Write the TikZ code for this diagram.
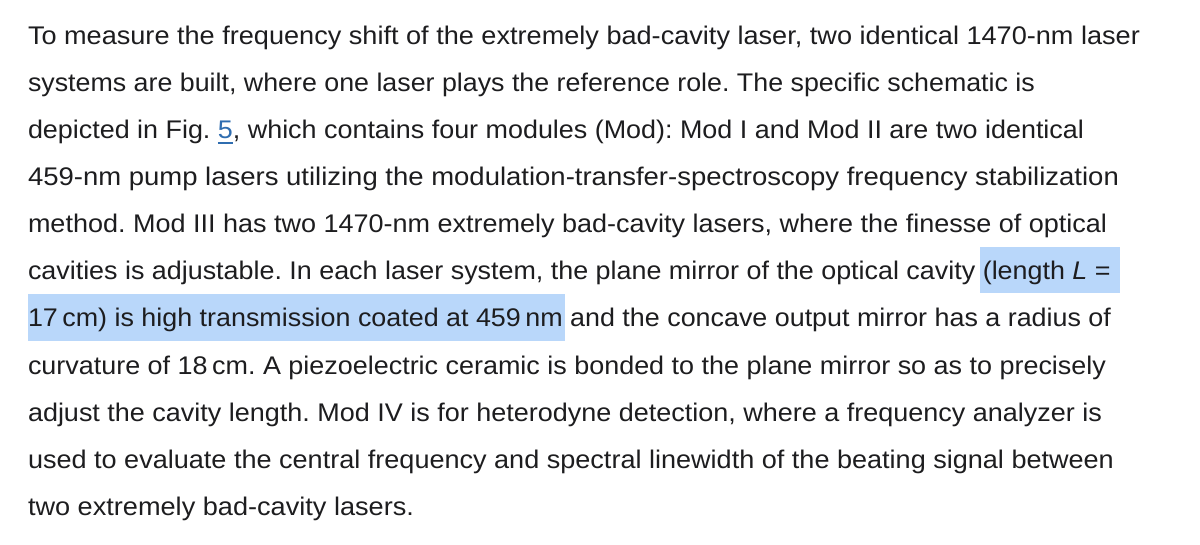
\documentclass[tikz,border=0pt]{standalone}
\usepackage{fontspec}
\setmainfont{Liberation Sans}
\usepackage{graphicx}
\frenchspacing
\definecolor{txt}{HTML}{1D1D1F}
\definecolor{hl}{HTML}{B9D7FA}
\definecolor{lnk}{HTML}{2F6DB0}
\newsavebox\fitbox
\newsavebox\partbox
\newcommand\hlt[2][2.5pt]{\sbox\partbox{#2}\rlap{\hspace{-#1}\textcolor{hl}{\rule[-13.5pt]{\dimexpr\wd\partbox+#1+2pt\relax}{47pt}}}\usebox\partbox}
\newcommand\lnkref[1]{\sbox\partbox{\textcolor{lnk}{#1}}\rlap{\textcolor{lnk}{\rule[-4.8pt]{\wd\partbox}{1.5pt}}}\usebox\partbox}
\newcommand\fitto[2]{%
  \sbox\fitbox{\normalfont\fontsize{25.5}{30}\selectfont\frenchspacing\color{txt}#2}%
  \pgfmathsetmacro\sx{#1/\the\wd\fitbox}%
  \scalebox{\sx}[1]{\usebox\fitbox}}
\newcommand\paraline[4]{%
  \node[txtline] (#1) at (28,-#2) {\fitto{#3}{#4}};%
}
\begin{document}
\begin{tikzpicture}[x=1pt,y=1pt,
  txtline/.style={anchor=base west,inner sep=0pt,outer sep=0pt}]
\fill[white] (0,0) rectangle (1200,-545);
\useasboundingbox (0,0) rectangle (1200,-545);
\paraline{l1}{45}{1112}{To measure the frequency shift of the extremely bad-cavity laser, two identical 1470-nm laser}
\paraline{l2}{92}{1007}{systems are built, where one laser plays the reference role. The specific schematic is}
\paraline{l3}{139}{1056}{depicted in Fig. \lnkref{5}, which contains four modules (Mod): Mod I and Mod II are two identical}
\paraline{l4}{186}{1091}{459-nm pump lasers utilizing the modulation-transfer-spectroscopy frequency stabilization}
\paraline{l5}{233}{1079}{method. Mod III has two 1470-nm extremely bad-cavity lasers, where the finesse of optical}
\paraline{l6}{280}{1090}{cavities is adjustable. In each laser system, the plane mirror of the optical cavity \hlt{(length \textit{L} =\hspace{7pt}}}
\paraline{l7}{327}{1083}{\hlt[0pt]{17\,cm) is high transmission coated at 459\,nm} and the concave output mirror has a radius of}
\paraline{l8}{374}{1078}{curvature of 18\,cm. A piezoelectric ceramic is bonded to the plane mirror so as to precisely}
\paraline{l9}{421}{1074}{adjust the cavity length. Mod IV is for heterodyne detection, where a frequency analyzer is}
\paraline{l10}{468}{1086}{used to evaluate the central frequency and spectral linewidth of the beating signal between}
\paraline{l11}{515}{386}{two extremely bad-cavity lasers.}
\end{tikzpicture}
\end{document}
